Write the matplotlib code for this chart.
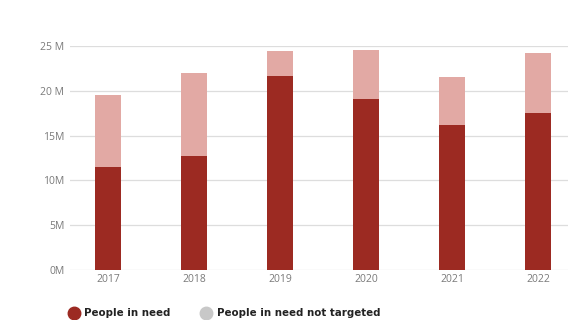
import matplotlib
matplotlib.use("Agg")
import matplotlib.pyplot as plt
from matplotlib.lines import Line2D
import numpy as np

years = ["2017", "2018", "2019", "2020", "2021", "2022"]
people_in_need = [11.5, 12.7, 21.6, 19.1, 16.2, 17.5]        # millions (dark)
total_in_need = [19.5, 22.0, 24.4, 24.5, 21.5, 24.2]          # millions (bar top)
not_targeted = [t - p for t, p in zip(total_in_need, people_in_need)]
ytick_vals = [0, 5, 10, 15, 20, 25]
ytick_labels = ["0M", "5M", "10M", "15M", "20 M", "25 M"]

dark = "#9c2a22"
light = "#e2a9a4"
grey_txt = "#7a7a7a"

plt.rcParams['font.family'] = ['Open Sans', 'DejaVu Sans']

fig = plt.figure(figsize=(5.68, 3.2), dpi=100)
ax = fig.add_axes([70/568, 50/320, 1 - 70/568, (270-46)/320])

x = np.arange(len(years))
w = 0.31
ax.bar(x, people_in_need, width=w, color=dark, zorder=3)
ax.bar(x, not_targeted, width=w, bottom=people_in_need, color=light, zorder=3)

ax.set_xlim(-0.44, 5.35)
ax.set_ylim(0, 25)
ax.set_yticks(ytick_vals)
ax.set_yticklabels(ytick_labels)
ax.set_xticks(x)
ax.set_xticklabels(years)
ax.tick_params(axis='both', length=0, labelsize=7.5, labelcolor=grey_txt)
ax.tick_params(axis='y', pad=4)
ax.tick_params(axis='x', pad=3)
for s in ax.spines.values():
    s.set_visible(False)
ax.yaxis.grid(True, color="#dddddd", linewidth=0.9, zorder=0)
ax.set_axisbelow(True)

# legend
ly = 1 - 313/320
fig.add_artist(Line2D([74/568], [ly], marker='o', markersize=9,
                      color=dark, linestyle='none', transform=fig.transFigure))
fig.text(84/568, ly, "People in need", fontsize=7.4, fontweight='bold',
         family='DejaVu Sans', color="#222222", va='center', ha='left')
fig.add_artist(Line2D([206/568], [ly], marker='o', markersize=9,
                      color="#c8c8c8", linestyle='none', transform=fig.transFigure))
fig.text(217/568, ly, "People in need not targeted", fontsize=7.4,
         fontweight='bold', family='DejaVu Sans', color="#222222",
         va='center', ha='left')

fig.savefig("out.png", dpi=100)
